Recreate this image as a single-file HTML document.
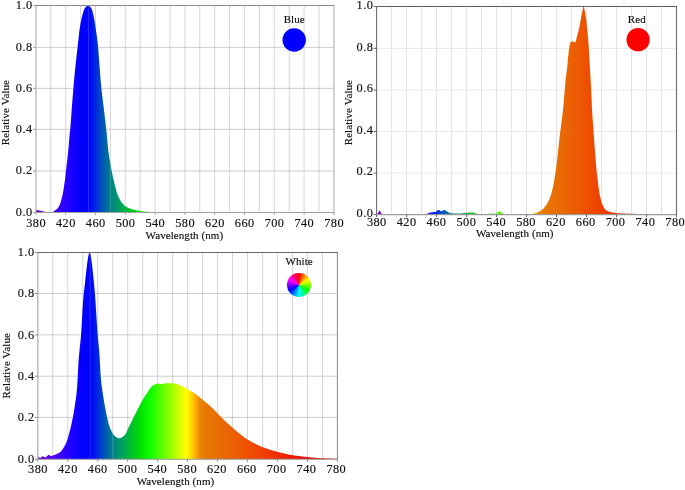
<!DOCTYPE html>
<html><head><meta charset="utf-8"><title>Spectra</title>
<style>
html,body{margin:0;padding:0;background:#fff;}
body{width:685px;height:490px;overflow:hidden;position:relative;}
svg{position:absolute;left:0;top:0;display:block;}
svg text{font-family:"Liberation Serif", serif;fill:#111;stroke:#111;stroke-width:0.16px;}
.wheel{position:absolute;left:287.1px;top:273.4px;width:23.8px;height:23.8px;border-radius:50%;
background:conic-gradient(#ff0000,#ffff00,#00ff00,#00ffff,#0000ff,#ff00ff,#ff0000);}
</style></head><body>
<svg width="685" height="490" viewBox="0 0 685 490">
<linearGradient id="g1" gradientUnits="userSpaceOnUse" x1="35.90" y1="0" x2="333.90" y2="0">
<stop offset="0.0000" stop-color="#7000d0"/>
<stop offset="0.0500" stop-color="#5000f0"/>
<stop offset="0.1000" stop-color="#2800ff"/>
<stop offset="0.1500" stop-color="#0000ff"/>
<stop offset="0.1750" stop-color="#0000ff"/>
<stop offset="0.2000" stop-color="#0028e0"/>
<stop offset="0.2250" stop-color="#0058b4"/>
<stop offset="0.2500" stop-color="#008088"/>
<stop offset="0.2750" stop-color="#009a68"/>
<stop offset="0.3000" stop-color="#00b440"/>
<stop offset="0.3250" stop-color="#00cc18"/>
<stop offset="0.3500" stop-color="#00e800"/>
<stop offset="0.3750" stop-color="#10ff00"/>
<stop offset="0.4000" stop-color="#40ff00"/>
<stop offset="0.4250" stop-color="#70ff00"/>
<stop offset="0.4500" stop-color="#a0ff00"/>
<stop offset="0.4750" stop-color="#d8ff00"/>
<stop offset="0.4950" stop-color="#ffff00"/>
<stop offset="0.5050" stop-color="#ffee00"/>
<stop offset="0.5250" stop-color="#ffb000"/>
<stop offset="0.5425" stop-color="#e88400"/>
<stop offset="0.5625" stop-color="#e67800"/>
<stop offset="0.6000" stop-color="#e86e04"/>
<stop offset="0.6500" stop-color="#eb6004"/>
<stop offset="0.7000" stop-color="#ee5002"/>
<stop offset="0.7500" stop-color="#f04000"/>
<stop offset="0.8000" stop-color="#f02c00"/>
<stop offset="0.8500" stop-color="#f01800"/>
<stop offset="0.9000" stop-color="#ee0800"/>
<stop offset="1.0000" stop-color="#e60000"/>
</linearGradient>
<path d="M50.80 5.46V212.45M65.70 5.46V212.45M80.60 5.46V212.45M95.50 5.46V212.45M110.40 5.46V212.45M125.30 5.46V212.45M140.20 5.46V212.45M155.10 5.46V212.45M170.00 5.46V212.45M184.90 5.46V212.45M199.80 5.46V212.45M214.70 5.46V212.45M229.60 5.46V212.45M244.50 5.46V212.45M259.40 5.46V212.45M274.30 5.46V212.45M289.20 5.46V212.45M304.10 5.46V212.45M319.00 5.46V212.45" stroke="#bebebe" stroke-width="0.62" fill="none"/>
<path d="M35.90 47.35H333.90M35.90 88.35H333.90M35.90 129.35H333.90M35.90 171.00H333.90" stroke="#adadad" stroke-width="0.62" fill="none"/>
<defs><path id="p1" d="M35.90 212.45L35.90 209.76L36.27 209.84L36.64 209.92L37.02 210.01L37.39 210.09L37.76 210.17L38.13 210.26L38.51 210.34L38.88 210.42L39.25 210.50L39.62 210.59L40.00 210.67L40.37 210.76L40.74 210.84L41.12 210.93L41.49 211.01L41.86 211.09L42.23 211.18L42.60 211.26L42.98 211.34L43.35 211.42L43.72 211.49L44.09 211.58L44.47 211.67L44.84 211.76L45.21 211.85L45.59 211.94L45.96 212.02L46.33 212.10L46.70 212.16L47.07 212.20L47.45 212.23L47.82 212.24L48.19 212.24L48.56 212.24L48.94 212.24L49.31 212.24L49.68 212.24L50.05 212.24L50.43 212.24L50.80 212.24L51.17 212.24L51.55 212.24L51.92 212.21L52.29 212.12L52.66 211.99L53.03 211.81L53.41 211.60L53.78 211.36L54.15 211.10L54.52 210.83L54.90 210.55L55.27 210.28L55.64 210.01L56.02 209.73L56.39 209.44L56.76 209.12L57.13 208.76L57.50 208.38L57.88 207.96L58.25 207.49L58.62 206.97L58.99 206.36L59.37 205.57L59.74 204.65L60.11 203.63L60.48 202.55L60.86 201.41L61.23 200.17L61.60 198.81L61.97 197.34L62.35 195.74L62.72 194.03L63.09 192.11L63.47 189.95L63.84 187.60L64.21 185.11L64.58 182.51L64.95 179.68L65.33 176.68L65.70 173.57L66.07 170.42L66.44 167.25L66.82 164.02L67.19 160.70L67.56 157.25L67.94 153.64L68.31 149.80L68.68 145.44L69.05 140.89L69.42 136.59L69.80 133.01L70.17 129.65L70.54 125.35L70.91 120.41L71.29 115.22L71.66 110.14L72.03 105.28L72.41 100.39L72.78 95.57L73.15 90.92L73.52 86.53L73.89 82.32L74.27 78.25L74.64 74.31L75.01 70.51L75.38 66.83L75.76 63.31L76.13 59.91L76.50 56.61L76.88 53.36L77.25 50.12L77.62 46.86L77.99 43.45L78.36 39.92L78.74 36.42L79.11 33.12L79.48 30.17L79.85 27.70L80.23 25.45L80.60 23.35L80.97 21.38L81.34 19.56L81.72 17.87L82.09 16.31L82.46 14.89L82.84 13.58L83.21 12.32L83.58 11.15L83.95 10.10L84.33 9.23L84.70 8.56L85.07 8.03L85.44 7.52L85.81 7.04L86.19 6.61L86.56 6.22L86.93 5.91L87.30 5.67L87.68 5.51L88.05 5.46L88.42 5.51L88.79 5.66L89.17 5.89L89.54 6.20L89.91 6.58L90.28 7.01L90.66 7.49L91.03 8.02L91.40 8.56L91.78 9.29L92.15 10.29L92.52 11.52L92.89 12.89L93.27 14.36L93.64 16.00L94.01 17.91L94.38 20.03L94.75 22.31L95.13 24.71L95.50 27.16L95.87 29.63L96.25 32.10L96.62 34.64L96.99 37.33L97.36 40.22L97.73 43.37L98.11 46.86L98.48 51.10L98.85 56.14L99.22 61.47L99.60 66.60L99.97 71.36L100.34 76.14L100.72 80.78L101.09 85.12L101.46 88.99L101.83 92.44L102.21 95.62L102.58 98.60L102.95 101.49L103.32 104.36L103.69 107.32L104.07 110.41L104.44 113.53L104.81 116.64L105.19 119.78L105.56 122.98L105.93 126.26L106.30 129.65L106.67 133.33L107.05 137.31L107.42 141.37L107.79 145.30L108.16 148.90L108.54 151.95L108.91 154.67L109.28 157.20L109.66 159.58L110.03 161.82L110.40 163.95L110.77 166.00L111.15 167.97L111.52 169.91L111.89 171.81L112.26 173.65L112.63 175.43L113.01 177.14L113.38 178.80L113.75 180.41L114.12 181.97L114.50 183.49L114.87 184.99L115.24 186.49L115.62 187.96L115.99 189.40L116.36 190.77L116.73 192.05L117.11 193.20L117.48 194.22L117.85 195.16L118.22 196.06L118.59 196.91L118.97 197.73L119.34 198.50L119.71 199.23L120.08 199.91L120.46 200.55L120.83 201.15L121.20 201.69L121.57 202.20L121.95 202.68L122.32 203.14L122.69 203.59L123.06 204.01L123.44 204.42L123.81 204.81L124.18 205.18L124.56 205.52L124.93 205.84L125.30 206.14L125.67 206.41L126.04 206.65L126.42 206.86L126.79 207.06L127.16 207.24L127.53 207.42L127.91 207.60L128.28 207.77L128.65 207.93L129.03 208.08L129.40 208.23L129.77 208.38L130.14 208.52L130.51 208.65L130.89 208.78L131.26 208.90L131.63 209.02L132.00 209.14L132.38 209.25L132.75 209.35L133.12 209.46L133.50 209.56L133.87 209.65L134.24 209.74L134.61 209.83L134.99 209.92L135.36 210.00L135.73 210.08L136.10 210.16L136.47 210.23L136.85 210.31L137.22 210.38L137.59 210.45L137.97 210.52L138.34 210.59L138.71 210.66L139.08 210.73L139.45 210.79L139.83 210.85L140.20 210.92L140.57 210.98L140.94 211.03L141.32 211.09L141.69 211.15L142.06 211.20L142.44 211.25L142.81 211.31L143.18 211.36L143.55 211.40L143.92 211.45L144.30 211.49L144.67 211.54L145.04 211.58L145.41 211.62L145.79 211.66L146.16 211.70L146.53 211.73L146.91 211.77L147.28 211.80L147.65 211.83L148.02 211.86L148.40 211.89L148.77 211.92L149.14 211.95L149.51 211.98L149.88 212.01L150.26 212.04L150.63 212.07L151.00 212.09L151.38 212.12L151.75 212.15L152.12 212.18L152.49 212.20L152.87 212.23L153.24 212.25L153.61 212.27L153.98 212.30L154.36 212.32L154.73 212.34L155.10 212.36L155.47 212.37L155.84 212.39L156.22 212.40L156.59 212.41L156.96 212.42L157.33 212.43L157.71 212.44L158.08 212.45L158.45 212.45L158.82 212.45L159.20 212.45L159.57 212.45L159.94 212.45L160.31 212.45L160.69 212.45L161.06 212.45L161.43 212.45L161.81 212.45L162.18 212.45L162.55 212.45L162.92 212.45L163.29 212.45L163.67 212.45L164.04 212.45L164.41 212.45L164.78 212.45L165.16 212.45L165.53 212.45L165.90 212.45L166.28 212.45L166.65 212.45L167.02 212.45L167.39 212.45L167.77 212.45L168.14 212.45L168.51 212.45L168.88 212.45L169.25 212.45L169.63 212.45L170.00 212.45L170.37 212.45L170.75 212.45L171.12 212.45L171.49 212.45L171.86 212.45L172.24 212.45L172.61 212.45L172.98 212.45L173.35 212.45L173.73 212.45L174.10 212.45L174.47 212.45L174.84 212.45L175.22 212.45L175.59 212.45L175.96 212.45L176.33 212.45L176.71 212.45L177.08 212.45L177.45 212.45L177.82 212.45L178.19 212.45L178.57 212.45L178.94 212.45L179.31 212.45L179.69 212.45L180.06 212.45L180.43 212.45L180.80 212.45L181.18 212.45L181.55 212.45L181.92 212.45L182.29 212.45L182.66 212.45L183.04 212.45L183.41 212.45L183.78 212.45L184.16 212.45L184.53 212.45L184.90 212.45L185.27 212.45L185.64 212.45L186.02 212.45L186.39 212.45L186.76 212.45L187.13 212.45L187.51 212.45L187.88 212.45L188.25 212.45L188.62 212.45L189.00 212.45L189.37 212.45L189.74 212.45L190.11 212.45L190.49 212.45L190.86 212.45L191.23 212.45L191.60 212.45L191.98 212.45L192.35 212.45L192.72 212.45L193.09 212.45L193.47 212.45L193.84 212.45L194.21 212.45L194.59 212.45L194.96 212.45L195.33 212.45L195.70 212.45L196.07 212.45L196.45 212.45L196.82 212.45L197.19 212.45L197.56 212.45L197.94 212.45L198.31 212.45L198.68 212.45L199.06 212.45L199.43 212.45L199.80 212.45L200.17 212.45L200.55 212.45L200.92 212.45L201.29 212.45L201.66 212.45L202.03 212.45L202.41 212.45L202.78 212.45L203.15 212.45L203.53 212.45L203.90 212.45L204.27 212.45L204.64 212.45L205.02 212.45L205.39 212.45L205.76 212.45L206.13 212.45L206.50 212.45L206.88 212.45L207.25 212.45L207.62 212.45L208.00 212.45L208.37 212.45L208.74 212.45L209.11 212.45L209.49 212.45L209.86 212.45L210.23 212.45L210.60 212.45L210.98 212.45L211.35 212.45L211.72 212.45L212.09 212.45L212.47 212.45L212.84 212.45L213.21 212.45L213.58 212.45L213.96 212.45L214.33 212.45L214.70 212.45L215.07 212.45L215.45 212.45L215.82 212.45L216.19 212.45L216.56 212.45L216.94 212.45L217.31 212.45L217.68 212.45L218.05 212.45L218.43 212.45L218.80 212.45L219.17 212.45L219.54 212.45L219.92 212.45L220.29 212.45L220.66 212.45L221.03 212.45L221.41 212.45L221.78 212.45L222.15 212.45L222.52 212.45L222.89 212.45L223.27 212.45L223.64 212.45L224.01 212.45L224.38 212.45L224.76 212.45L225.13 212.45L225.50 212.45L225.88 212.45L226.25 212.45L226.62 212.45L226.99 212.45L227.36 212.45L227.74 212.45L228.11 212.45L228.48 212.45L228.85 212.45L229.23 212.45L229.60 212.45L229.97 212.45L230.34 212.45L230.72 212.45L231.09 212.45L231.46 212.45L231.84 212.45L232.21 212.45L232.58 212.45L232.95 212.45L233.32 212.45L233.70 212.45L234.07 212.45L234.44 212.45L234.81 212.45L235.19 212.45L235.56 212.45L235.93 212.45L236.31 212.45L236.68 212.45L237.05 212.45L237.42 212.45L237.80 212.45L238.17 212.45L238.54 212.45L238.91 212.45L239.28 212.45L239.66 212.45L240.03 212.45L240.40 212.45L240.78 212.45L241.15 212.45L241.52 212.45L241.89 212.45L242.27 212.45L242.64 212.45L243.01 212.45L243.38 212.45L243.75 212.45L244.13 212.45L244.50 212.45L244.87 212.45L245.25 212.45L245.62 212.45L245.99 212.45L246.36 212.45L246.74 212.45L247.11 212.45L247.48 212.45L247.85 212.45L248.23 212.45L248.60 212.45L248.97 212.45L249.34 212.45L249.72 212.45L250.09 212.45L250.46 212.45L250.83 212.45L251.21 212.45L251.58 212.45L251.95 212.45L252.32 212.45L252.70 212.45L253.07 212.45L253.44 212.45L253.81 212.45L254.19 212.45L254.56 212.45L254.93 212.45L255.30 212.45L255.68 212.45L256.05 212.45L256.42 212.45L256.79 212.45L257.17 212.45L257.54 212.45L257.91 212.45L258.28 212.45L258.66 212.45L259.03 212.45L259.40 212.45L259.77 212.45L260.14 212.45L260.52 212.45L260.89 212.45L261.26 212.45L261.63 212.45L262.01 212.45L262.38 212.45L262.75 212.45L263.12 212.45L263.50 212.45L263.87 212.45L264.24 212.45L264.61 212.45L264.99 212.45L265.36 212.45L265.73 212.45L266.10 212.45L266.48 212.45L266.85 212.45L267.22 212.45L267.59 212.45L267.97 212.45L268.34 212.45L268.71 212.45L269.08 212.45L269.46 212.45L269.83 212.45L270.20 212.45L270.57 212.45L270.95 212.45L271.32 212.45L271.69 212.45L272.06 212.45L272.44 212.45L272.81 212.45L273.18 212.45L273.56 212.45L273.93 212.45L274.30 212.45L274.67 212.45L275.05 212.45L275.42 212.45L275.79 212.45L276.16 212.45L276.53 212.45L276.91 212.45L277.28 212.45L277.65 212.45L278.02 212.45L278.40 212.45L278.77 212.45L279.14 212.45L279.51 212.45L279.89 212.45L280.26 212.45L280.63 212.45L281.00 212.45L281.38 212.45L281.75 212.45L282.12 212.45L282.50 212.45L282.87 212.45L283.24 212.45L283.61 212.45L283.99 212.45L284.36 212.45L284.73 212.45L285.10 212.45L285.48 212.45L285.85 212.45L286.22 212.45L286.59 212.45L286.96 212.45L287.34 212.45L287.71 212.45L288.08 212.45L288.45 212.45L288.83 212.45L289.20 212.45L289.57 212.45L289.94 212.45L290.32 212.45L290.69 212.45L291.06 212.45L291.44 212.45L291.81 212.45L292.18 212.45L292.55 212.45L292.93 212.45L293.30 212.45L293.67 212.45L294.04 212.45L294.41 212.45L294.79 212.45L295.16 212.45L295.53 212.45L295.90 212.45L296.28 212.45L296.65 212.45L297.02 212.45L297.39 212.45L297.77 212.45L298.14 212.45L298.51 212.45L298.88 212.45L299.26 212.45L299.63 212.45L300.00 212.45L300.37 212.45L300.75 212.45L301.12 212.45L301.49 212.45L301.86 212.45L302.24 212.45L302.61 212.45L302.98 212.45L303.35 212.45L303.73 212.45L304.10 212.45L304.47 212.45L304.84 212.45L305.22 212.45L305.59 212.45L305.96 212.45L306.33 212.45L306.71 212.45L307.08 212.45L307.45 212.45L307.82 212.45L308.20 212.45L308.57 212.45L308.94 212.45L309.31 212.45L309.69 212.45L310.06 212.45L310.43 212.45L310.80 212.45L311.18 212.45L311.55 212.45L311.92 212.45L312.29 212.45L312.67 212.45L313.04 212.45L313.41 212.45L313.78 212.45L314.16 212.45L314.53 212.45L314.90 212.45L315.27 212.45L315.65 212.45L316.02 212.45L316.39 212.45L316.76 212.45L317.14 212.45L317.51 212.45L317.88 212.45L318.25 212.45L318.63 212.45L319.00 212.45L319.37 212.45L319.75 212.45L320.12 212.45L320.49 212.45L320.86 212.45L321.23 212.45L321.61 212.45L321.98 212.45L322.35 212.45L322.72 212.45L323.10 212.45L323.47 212.45L323.84 212.45L324.21 212.45L324.59 212.45L324.96 212.45L325.33 212.45L325.70 212.45L326.08 212.45L326.45 212.45L326.82 212.45L327.19 212.45L327.57 212.45L327.94 212.45L328.31 212.45L328.69 212.45L329.06 212.45L329.43 212.45L329.80 212.45L330.18 212.45L330.55 212.45L330.92 212.45L331.29 212.45L331.66 212.45L332.04 212.45L332.41 212.45L332.78 212.45L333.15 212.45L333.53 212.45L333.90 212.45L333.90 212.45Z"/></defs>
<clipPath id="c1"><use href="#p1"/></clipPath>
<use href="#p1" fill="url(#g1)"/>
<path d="M88.42 5.46V212.45" stroke="#ffffff" stroke-opacity="0.22" stroke-width="0.8" clip-path="url(#c1)"/>
<path d="M110.40 5.46V212.45" stroke="#ffffff" stroke-opacity="0.22" stroke-width="0.8" clip-path="url(#c1)"/>
<path d="M35.90 5.46V212.45" stroke="#b4b4b4" stroke-width="1.3" fill="none"/>
<path d="M333.90 5.46V212.45" stroke="#b0b0b0" stroke-width="1.1" fill="none"/>
<path d="M35.40 212.45H334.40" stroke="#a0a0a0" stroke-width="1.1" fill="none"/>
<path d="M35.40 5.46H334.40" stroke="#8a8a8a" stroke-width="1.1" fill="none"/>
<path d="M35.90 212.45v2.5M65.70 212.45v2.5M95.50 212.45v2.5M125.30 212.45v2.5M155.10 212.45v2.5M184.90 212.45v2.5M214.70 212.45v2.5M244.50 212.45v2.5M274.30 212.45v2.5M304.10 212.45v2.5M333.90 212.45v2.5M35.90 5.46h-3M35.90 47.35h-3M35.90 88.35h-3M35.90 129.35h-3M35.90 171.00h-3M35.90 212.45h-3" stroke="#a0a0a0" stroke-width="1" fill="none"/>
<text x="36.12" y="226.95" text-anchor="middle" font-size="12.3" letter-spacing="0.45">380</text>
<text x="65.92" y="226.95" text-anchor="middle" font-size="12.3" letter-spacing="0.45">420</text>
<text x="95.72" y="226.95" text-anchor="middle" font-size="12.3" letter-spacing="0.45">460</text>
<text x="125.53" y="226.95" text-anchor="middle" font-size="12.3" letter-spacing="0.45">500</text>
<text x="155.32" y="226.95" text-anchor="middle" font-size="12.3" letter-spacing="0.45">540</text>
<text x="185.12" y="226.95" text-anchor="middle" font-size="12.3" letter-spacing="0.45">580</text>
<text x="214.93" y="226.95" text-anchor="middle" font-size="12.3" letter-spacing="0.45">620</text>
<text x="244.72" y="226.95" text-anchor="middle" font-size="12.3" letter-spacing="0.45">660</text>
<text x="274.53" y="226.95" text-anchor="middle" font-size="12.3" letter-spacing="0.45">700</text>
<text x="304.32" y="226.95" text-anchor="middle" font-size="12.3" letter-spacing="0.45">740</text>
<text x="334.12" y="226.95" text-anchor="middle" font-size="12.3" letter-spacing="0.45">780</text>
<text x="32.60" y="8.86" text-anchor="end" font-size="12.3" letter-spacing="0.45">1.0</text>
<text x="32.60" y="50.75" text-anchor="end" font-size="12.3" letter-spacing="0.45">0.8</text>
<text x="32.60" y="91.75" text-anchor="end" font-size="12.3" letter-spacing="0.45">0.6</text>
<text x="32.60" y="132.75" text-anchor="end" font-size="12.3" letter-spacing="0.45">0.4</text>
<text x="32.60" y="174.40" text-anchor="end" font-size="12.3" letter-spacing="0.45">0.2</text>
<text x="32.60" y="215.85" text-anchor="end" font-size="12.3" letter-spacing="0.45">0.0</text>
<text x="184.40" y="238.70" text-anchor="middle" font-size="11" letter-spacing="0.08">Wavelength (nm)</text>
<text transform="translate(9.00 112.60) rotate(-90)" text-anchor="middle" font-size="11" letter-spacing="0.08">Relative Value</text>
<text x="294.20" y="22.80" text-anchor="middle" font-size="11" letter-spacing="0.08">Blue</text>
<circle cx="294.20" cy="40.00" r="11.70" fill="#0000ff"/>
<linearGradient id="g2" gradientUnits="userSpaceOnUse" x1="376.60" y1="0" x2="676.50" y2="0">
<stop offset="0.0000" stop-color="#7000d0"/>
<stop offset="0.0500" stop-color="#5000f0"/>
<stop offset="0.1000" stop-color="#2800ff"/>
<stop offset="0.1500" stop-color="#0000ff"/>
<stop offset="0.1750" stop-color="#0000ff"/>
<stop offset="0.2000" stop-color="#0028e0"/>
<stop offset="0.2250" stop-color="#0058b4"/>
<stop offset="0.2500" stop-color="#008088"/>
<stop offset="0.2750" stop-color="#009a68"/>
<stop offset="0.3000" stop-color="#00b440"/>
<stop offset="0.3250" stop-color="#00cc18"/>
<stop offset="0.3500" stop-color="#00e800"/>
<stop offset="0.3750" stop-color="#10ff00"/>
<stop offset="0.4000" stop-color="#40ff00"/>
<stop offset="0.4250" stop-color="#70ff00"/>
<stop offset="0.4500" stop-color="#a0ff00"/>
<stop offset="0.4750" stop-color="#d8ff00"/>
<stop offset="0.4950" stop-color="#ffff00"/>
<stop offset="0.5050" stop-color="#ffee00"/>
<stop offset="0.5250" stop-color="#ffb000"/>
<stop offset="0.5425" stop-color="#e88400"/>
<stop offset="0.5625" stop-color="#e67800"/>
<stop offset="0.6000" stop-color="#e86e04"/>
<stop offset="0.6500" stop-color="#eb6004"/>
<stop offset="0.7000" stop-color="#ee5002"/>
<stop offset="0.7500" stop-color="#f04000"/>
<stop offset="0.8000" stop-color="#f02c00"/>
<stop offset="0.8500" stop-color="#f01800"/>
<stop offset="0.9000" stop-color="#ee0800"/>
<stop offset="1.0000" stop-color="#e60000"/>
</linearGradient>
<path d="M391.60 6.55V214.60M406.59 6.55V214.60M421.59 6.55V214.60M436.58 6.55V214.60M451.58 6.55V214.60M466.57 6.55V214.60M481.56 6.55V214.60M496.56 6.55V214.60M511.56 6.55V214.60M526.55 6.55V214.60M541.55 6.55V214.60M556.54 6.55V214.60M571.54 6.55V214.60M586.53 6.55V214.60M601.53 6.55V214.60M616.52 6.55V214.60M631.51 6.55V214.60M646.51 6.55V214.60M661.50 6.55V214.60" stroke="#d2d2d2" stroke-width="0.62" fill="none"/>
<path d="M376.60 48.35H676.50M376.60 90.00H676.50M376.60 131.50H676.50M376.60 173.10H676.50" stroke="#e9e6e3" stroke-width="0.9" fill="none"/>
<defs><path id="p2" d="M376.60 214.60L376.60 214.60L376.97 214.30L377.35 213.93L377.72 213.51L378.10 213.04L378.47 212.36L378.85 211.50L379.22 210.75L379.60 210.44L379.97 210.75L380.35 211.50L380.72 212.36L381.10 213.04L381.47 213.56L381.85 214.06L382.22 214.45L382.60 214.60L382.97 214.60L383.35 214.60L383.72 214.60L384.10 214.60L384.47 214.60L384.85 214.60L385.22 214.60L385.60 214.60L385.97 214.60L386.35 214.60L386.72 214.60L387.10 214.60L387.47 214.60L387.85 214.60L388.22 214.60L388.60 214.60L388.97 214.60L389.35 214.60L389.72 214.60L390.10 214.60L390.47 214.60L390.85 214.60L391.22 214.60L391.60 214.60L391.97 214.60L392.34 214.60L392.72 214.60L393.09 214.60L393.47 214.60L393.84 214.60L394.22 214.60L394.59 214.60L394.97 214.60L395.34 214.60L395.72 214.60L396.09 214.60L396.47 214.60L396.84 214.60L397.22 214.60L397.59 214.60L397.97 214.60L398.34 214.60L398.72 214.60L399.09 214.60L399.47 214.60L399.84 214.60L400.22 214.60L400.59 214.60L400.97 214.60L401.34 214.60L401.72 214.60L402.09 214.60L402.47 214.60L402.84 214.60L403.22 214.60L403.59 214.60L403.97 214.60L404.34 214.60L404.72 214.60L405.09 214.60L405.47 214.60L405.84 214.60L406.22 214.60L406.59 214.60L406.96 214.60L407.34 214.60L407.71 214.60L408.09 214.60L408.46 214.60L408.84 214.60L409.21 214.60L409.59 214.60L409.96 214.60L410.34 214.60L410.71 214.60L411.09 214.60L411.46 214.60L411.84 214.60L412.21 214.60L412.59 214.60L412.96 214.60L413.34 214.60L413.71 214.60L414.09 214.60L414.46 214.60L414.84 214.60L415.21 214.60L415.59 214.60L415.96 214.60L416.34 214.60L416.71 214.60L417.09 214.60L417.46 214.60L417.84 214.60L418.21 214.60L418.59 214.60L418.96 214.60L419.34 214.60L419.71 214.60L420.09 214.60L420.46 214.60L420.84 214.60L421.21 214.60L421.59 214.60L421.96 214.60L422.33 214.60L422.71 214.60L423.08 214.60L423.46 214.60L423.83 214.60L424.21 214.60L424.58 214.60L424.96 214.57L425.33 214.48L425.71 214.35L426.08 214.20L426.46 214.03L426.83 213.86L427.21 213.70L427.58 213.56L427.96 213.44L428.33 213.31L428.71 213.18L429.08 213.05L429.46 212.93L429.83 212.80L430.21 212.69L430.58 212.58L430.96 212.48L431.33 212.39L431.71 212.32L432.08 212.26L432.46 212.22L432.83 212.19L433.21 212.16L433.58 212.14L433.96 212.11L434.33 212.08L434.71 212.05L435.08 212.00L435.46 211.89L435.83 211.68L436.21 211.40L436.58 211.09L436.95 210.77L437.33 210.46L437.70 210.20L438.08 210.01L438.45 209.92L438.83 209.96L439.20 210.09L439.58 210.30L439.95 210.54L440.33 210.79L440.70 211.01L441.08 211.16L441.45 211.22L441.83 211.16L442.20 211.01L442.58 210.79L442.95 210.54L443.33 210.30L443.70 210.09L444.08 209.96L444.45 209.92L444.83 209.99L445.20 210.15L445.58 210.38L445.95 210.65L446.33 210.95L446.70 211.25L447.08 211.54L447.45 211.80L447.83 212.00L448.20 212.17L448.58 212.34L448.95 212.51L449.33 212.67L449.70 212.82L450.08 212.96L450.45 213.09L450.83 213.18L451.20 213.26L451.58 213.30L451.95 213.33L452.32 213.35L452.70 213.37L453.07 213.39L453.45 213.41L453.82 213.43L454.20 213.45L454.57 213.47L454.95 213.48L455.32 213.49L455.70 213.51L456.07 213.52L456.45 213.53L456.82 213.54L457.20 213.54L457.57 213.55L457.95 213.55L458.32 213.56L458.70 213.56L459.07 213.56L459.45 213.56L459.82 213.54L460.20 213.52L460.57 213.49L460.95 213.46L461.32 213.42L461.70 213.38L462.07 213.33L462.45 213.28L462.82 213.23L463.20 213.17L463.57 213.12L463.95 213.07L464.32 213.01L464.70 212.97L465.07 212.92L465.45 212.88L465.82 212.84L466.20 212.81L466.57 212.78L466.94 212.76L467.32 212.73L467.69 212.71L468.07 212.69L468.44 212.67L468.82 212.64L469.19 212.62L469.57 212.60L469.94 212.59L470.32 212.57L470.69 212.56L471.07 212.54L471.44 212.53L471.82 212.53L472.19 212.52L472.57 212.52L472.94 212.54L473.32 212.60L473.69 212.69L474.07 212.80L474.44 212.93L474.82 213.08L475.19 213.23L475.57 213.37L475.94 213.51L476.32 213.64L476.69 213.74L477.07 213.82L477.44 213.88L477.82 213.94L478.19 214.01L478.57 214.06L478.94 214.12L479.32 214.17L479.69 214.22L480.07 214.26L480.44 214.29L480.82 214.32L481.19 214.33L481.56 214.34L481.94 214.34L482.31 214.33L482.69 214.32L483.06 214.31L483.44 214.29L483.81 214.28L484.19 214.25L484.56 214.23L484.94 214.21L485.31 214.18L485.69 214.16L486.06 214.13L486.44 214.11L486.81 214.08L487.19 214.05L487.56 214.01L487.94 213.96L488.31 213.91L488.69 213.86L489.06 213.81L489.44 213.75L489.81 213.70L490.19 213.66L490.56 213.62L490.94 213.59L491.31 213.57L491.69 213.56L492.06 213.57L492.44 213.59L492.81 213.63L493.19 213.67L493.56 213.71L493.94 213.75L494.31 213.79L494.69 213.81L495.06 213.82L495.44 213.77L495.81 213.62L496.19 213.41L496.56 213.14L496.93 212.84L497.31 212.52L497.68 212.22L498.06 211.94L498.43 211.71L498.81 211.55L499.18 211.48L499.56 211.51L499.93 211.61L500.31 211.79L500.68 212.01L501.06 212.26L501.43 212.53L501.81 212.81L502.18 213.07L502.56 213.30L502.93 213.54L503.31 213.83L503.68 214.11L504.06 214.36L504.43 214.53L504.81 214.60L505.18 214.60L505.56 214.60L505.93 214.60L506.31 214.60L506.68 214.60L507.06 214.60L507.43 214.60L507.81 214.60L508.18 214.60L508.56 214.60L508.93 214.60L509.31 214.60L509.68 214.60L510.06 214.60L510.43 214.60L510.81 214.60L511.18 214.60L511.56 214.60L511.93 214.60L512.30 214.60L512.68 214.60L513.05 214.60L513.43 214.60L513.80 214.60L514.18 214.60L514.55 214.60L514.93 214.60L515.30 214.60L515.68 214.60L516.05 214.60L516.43 214.60L516.80 214.60L517.18 214.60L517.55 214.60L517.93 214.60L518.30 214.60L518.68 214.60L519.05 214.60L519.43 214.60L519.80 214.60L520.18 214.60L520.55 214.60L520.93 214.60L521.30 214.60L521.68 214.60L522.05 214.60L522.43 214.60L522.80 214.60L523.18 214.60L523.55 214.59L523.93 214.59L524.30 214.58L524.68 214.57L525.05 214.55L525.43 214.54L525.80 214.52L526.18 214.50L526.55 214.48L526.92 214.45L527.30 214.43L527.67 214.40L528.05 214.37L528.42 214.35L528.80 214.32L529.17 214.28L529.55 214.25L529.92 214.22L530.30 214.18L530.67 214.14L531.05 214.10L531.42 214.04L531.80 213.98L532.17 213.90L532.55 213.83L532.92 213.74L533.30 213.66L533.67 213.56L534.05 213.47L534.42 213.37L534.80 213.27L535.17 213.16L535.55 213.05L535.92 212.93L536.30 212.81L536.67 212.68L537.05 212.54L537.42 212.39L537.80 212.24L538.17 212.08L538.55 211.91L538.92 211.73L539.30 211.55L539.67 211.35L540.05 211.15L540.42 210.94L540.80 210.72L541.17 210.49L541.55 210.24L541.92 209.97L542.29 209.66L542.67 209.33L543.04 208.98L543.42 208.60L543.79 208.20L544.17 207.77L544.54 207.32L544.92 206.85L545.29 206.35L545.67 205.84L546.04 205.31L546.42 204.76L546.79 204.20L547.17 203.60L547.54 202.96L547.92 202.28L548.29 201.54L548.67 200.76L549.04 199.93L549.42 199.04L549.79 198.11L550.17 197.11L550.54 196.07L550.92 194.96L551.29 193.79L551.67 192.52L552.04 191.08L552.42 189.50L552.79 187.79L553.17 185.96L553.54 184.01L553.92 181.96L554.29 179.82L554.67 177.61L555.04 175.33L555.42 172.99L555.79 170.50L556.17 167.76L556.54 164.81L556.91 161.69L557.29 158.43L557.66 155.06L558.04 151.62L558.41 148.14L558.79 144.66L559.16 141.20L559.54 137.82L559.91 134.53L560.29 131.38L560.66 128.39L561.04 125.53L561.41 122.73L561.79 119.91L562.16 117.01L562.54 113.94L562.91 110.64L563.29 106.96L563.66 102.77L564.04 98.26L564.41 93.61L564.79 89.00L565.16 84.61L565.54 80.64L565.91 77.28L566.29 74.51L566.66 71.82L567.04 68.65L567.41 64.92L567.79 60.95L568.16 57.11L568.54 53.19L568.91 49.62L569.29 47.29L569.66 45.38L570.04 43.86L570.41 42.87L570.79 42.33L571.16 41.87L571.54 41.53L571.91 41.33L572.28 41.30L572.66 41.38L573.03 41.53L573.41 41.71L573.78 41.91L574.16 42.10L574.53 42.25L574.91 42.33L575.28 42.20L575.66 41.44L576.03 40.20L576.41 38.69L576.78 37.11L577.16 35.68L577.53 34.38L577.91 33.04L578.28 31.65L578.66 30.18L579.03 28.60L579.41 26.85L579.78 24.94L580.16 22.93L580.53 20.92L580.91 18.79L581.28 16.62L581.66 14.61L582.03 12.71L582.41 10.66L582.78 8.74L583.16 7.28L583.53 6.57L583.91 6.94L584.28 8.31L584.66 10.31L585.03 12.55L585.41 14.65L585.78 16.72L586.16 19.08L586.53 21.98L586.90 26.11L587.28 30.04L587.65 33.42L588.03 37.36L588.40 42.01L588.78 47.40L589.15 54.22L589.53 61.07L589.90 67.43L590.28 73.85L590.65 80.19L591.03 86.88L591.40 94.66L591.78 103.60L592.15 111.30L592.53 117.53L592.90 123.09L593.28 128.30L593.65 133.44L594.03 138.58L594.40 143.67L594.78 148.67L595.15 153.53L595.53 158.22L595.90 162.69L596.28 166.90L596.65 170.81L597.03 174.39L597.40 177.83L597.78 181.12L598.15 184.23L598.53 187.14L598.90 189.78L599.28 192.14L599.65 194.18L600.03 196.03L600.40 197.76L600.78 199.36L601.15 200.82L601.52 202.12L601.90 203.25L602.27 204.20L602.65 205.03L603.02 205.83L603.40 206.58L603.77 207.28L604.15 207.94L604.52 208.53L604.90 209.07L605.27 209.53L605.65 209.93L606.02 210.24L606.40 210.48L606.77 210.68L607.15 210.87L607.52 211.04L607.90 211.20L608.27 211.35L608.65 211.49L609.02 211.62L609.40 211.74L609.77 211.85L610.15 211.96L610.52 212.05L610.90 212.14L611.27 212.23L611.65 212.31L612.02 212.38L612.40 212.45L612.77 212.52L613.15 212.59L613.52 212.65L613.90 212.71L614.27 212.77L614.65 212.83L615.02 212.89L615.40 212.94L615.77 212.99L616.15 213.04L616.52 213.08L616.89 213.13L617.27 213.17L617.64 213.21L618.02 213.24L618.39 213.27L618.77 213.30L619.14 213.33L619.52 213.35L619.89 213.37L620.27 213.39L620.64 213.41L621.02 213.43L621.39 213.45L621.77 213.46L622.14 213.48L622.52 213.50L622.89 213.51L623.27 213.52L623.64 213.54L624.02 213.55L624.39 213.56L624.77 213.58L625.14 213.59L625.52 213.60L625.89 213.61L626.27 213.62L626.64 213.63L627.02 213.64L627.39 213.65L627.77 213.66L628.14 213.67L628.52 213.68L628.89 213.69L629.27 213.70L629.64 213.71L630.02 213.72L630.39 213.73L630.77 213.75L631.14 213.76L631.51 213.77L631.89 213.78L632.26 213.79L632.64 213.80L633.01 213.81L633.39 213.82L633.76 213.84L634.14 213.85L634.51 213.86L634.89 213.87L635.26 213.88L635.64 213.89L636.01 213.90L636.39 213.91L636.76 213.92L637.14 213.93L637.51 213.94L637.89 213.95L638.26 213.96L638.64 213.97L639.01 213.98L639.39 213.99L639.76 214.00L640.14 214.01L640.51 214.02L640.89 214.03L641.26 214.04L641.64 214.05L642.01 214.06L642.39 214.07L642.76 214.08L643.14 214.09L643.51 214.10L643.89 214.11L644.26 214.12L644.64 214.13L645.01 214.14L645.39 214.15L645.76 214.16L646.14 214.17L646.51 214.18L646.88 214.19L647.26 214.21L647.63 214.22L648.01 214.23L648.38 214.24L648.76 214.25L649.13 214.27L649.51 214.28L649.88 214.29L650.26 214.31L650.63 214.32L651.01 214.33L651.38 214.35L651.76 214.36L652.13 214.38L652.51 214.39L652.88 214.40L653.26 214.42L653.63 214.43L654.01 214.44L654.38 214.46L654.76 214.47L655.13 214.48L655.51 214.49L655.88 214.50L656.26 214.52L656.63 214.53L657.01 214.54L657.38 214.55L657.76 214.55L658.13 214.56L658.51 214.57L658.88 214.58L659.26 214.58L659.63 214.59L660.01 214.59L660.38 214.60L660.76 214.60L661.13 214.60L661.50 214.60L661.88 214.60L662.25 214.60L662.63 214.60L663.00 214.60L663.38 214.60L663.75 214.60L664.13 214.60L664.50 214.60L664.88 214.60L665.25 214.60L665.63 214.60L666.00 214.60L666.38 214.60L666.75 214.60L667.13 214.60L667.50 214.60L667.88 214.60L668.25 214.60L668.63 214.60L669.00 214.60L669.38 214.60L669.75 214.60L670.13 214.60L670.50 214.60L670.88 214.60L671.25 214.60L671.63 214.60L672.00 214.60L672.38 214.60L672.75 214.60L673.13 214.60L673.50 214.60L673.88 214.60L674.25 214.60L674.63 214.60L675.00 214.60L675.38 214.60L675.75 214.60L676.13 214.60L676.50 214.60L676.50 214.60Z"/></defs>
<clipPath id="c2"><use href="#p2"/></clipPath>
<use href="#p2" fill="url(#g2)"/>
<path d="M376.60 6.55V214.60" stroke="#6a6a6a" stroke-width="1.1" fill="none"/>
<path d="M676.50 6.55V214.60" stroke="#6a6a6a" stroke-width="1.1" fill="none"/>
<path d="M376.10 214.60H677.00" stroke="#9a9a9a" stroke-width="1.1" fill="none"/>
<path d="M376.10 6.55H677.00" stroke="#5e5e5e" stroke-width="1.1" fill="none"/>
<path d="M376.60 214.60v2.5M406.59 214.60v2.5M436.58 214.60v2.5M466.57 214.60v2.5M496.56 214.60v2.5M526.55 214.60v2.5M556.54 214.60v2.5M586.53 214.60v2.5M616.52 214.60v2.5M646.51 214.60v2.5M676.50 214.60v2.5M376.60 6.55h-3M376.60 48.35h-3M376.60 90.00h-3M376.60 131.50h-3M376.60 173.10h-3M376.60 214.60h-3" stroke="#666666" stroke-width="1" fill="none"/>
<text x="376.83" y="225.90" text-anchor="middle" font-size="12.3" letter-spacing="0.45">380</text>
<text x="406.67" y="225.90" text-anchor="middle" font-size="12.3" letter-spacing="0.45">420</text>
<text x="436.51" y="225.90" text-anchor="middle" font-size="12.3" letter-spacing="0.45">460</text>
<text x="466.35" y="225.90" text-anchor="middle" font-size="12.3" letter-spacing="0.45">500</text>
<text x="496.19" y="225.90" text-anchor="middle" font-size="12.3" letter-spacing="0.45">540</text>
<text x="526.03" y="225.90" text-anchor="middle" font-size="12.3" letter-spacing="0.45">580</text>
<text x="555.87" y="225.90" text-anchor="middle" font-size="12.3" letter-spacing="0.45">620</text>
<text x="585.71" y="225.90" text-anchor="middle" font-size="12.3" letter-spacing="0.45">660</text>
<text x="615.55" y="225.90" text-anchor="middle" font-size="12.3" letter-spacing="0.45">700</text>
<text x="645.39" y="225.90" text-anchor="middle" font-size="12.3" letter-spacing="0.45">740</text>
<text x="675.23" y="225.90" text-anchor="middle" font-size="12.3" letter-spacing="0.45">780</text>
<text x="373.30" y="8.75" text-anchor="end" font-size="12.3" letter-spacing="0.45">1.0</text>
<text x="373.30" y="50.55" text-anchor="end" font-size="12.3" letter-spacing="0.45">0.8</text>
<text x="373.30" y="92.20" text-anchor="end" font-size="12.3" letter-spacing="0.45">0.6</text>
<text x="373.30" y="133.70" text-anchor="end" font-size="12.3" letter-spacing="0.45">0.4</text>
<text x="373.30" y="175.30" text-anchor="end" font-size="12.3" letter-spacing="0.45">0.2</text>
<text x="373.30" y="216.80" text-anchor="end" font-size="12.3" letter-spacing="0.45">0.0</text>
<text x="514.80" y="237.40" text-anchor="middle" font-size="11" letter-spacing="0.08">Wavelength (nm)</text>
<text transform="translate(352.00 112.60) rotate(-90)" text-anchor="middle" font-size="11" letter-spacing="0.08">Relative Value</text>
<text x="636.80" y="22.90" text-anchor="middle" font-size="11" letter-spacing="0.08">Red</text>
<circle cx="638.10" cy="39.70" r="11.60" fill="#ff0000"/>
<linearGradient id="g3" gradientUnits="userSpaceOnUse" x1="37.80" y1="0" x2="337.40" y2="0">
<stop offset="0.0000" stop-color="#7000d0"/>
<stop offset="0.0500" stop-color="#5000f0"/>
<stop offset="0.1000" stop-color="#2800ff"/>
<stop offset="0.1500" stop-color="#0000ff"/>
<stop offset="0.1750" stop-color="#0000ff"/>
<stop offset="0.2000" stop-color="#0028e0"/>
<stop offset="0.2250" stop-color="#0058b4"/>
<stop offset="0.2500" stop-color="#008088"/>
<stop offset="0.2750" stop-color="#009a68"/>
<stop offset="0.3000" stop-color="#00b440"/>
<stop offset="0.3250" stop-color="#00cc18"/>
<stop offset="0.3500" stop-color="#00e800"/>
<stop offset="0.3750" stop-color="#10ff00"/>
<stop offset="0.4000" stop-color="#40ff00"/>
<stop offset="0.4250" stop-color="#70ff00"/>
<stop offset="0.4500" stop-color="#a0ff00"/>
<stop offset="0.4750" stop-color="#d8ff00"/>
<stop offset="0.4950" stop-color="#ffff00"/>
<stop offset="0.5050" stop-color="#ffee00"/>
<stop offset="0.5250" stop-color="#ffb000"/>
<stop offset="0.5425" stop-color="#e88400"/>
<stop offset="0.5625" stop-color="#e67800"/>
<stop offset="0.6000" stop-color="#e86e04"/>
<stop offset="0.6500" stop-color="#eb6004"/>
<stop offset="0.7000" stop-color="#ee5002"/>
<stop offset="0.7500" stop-color="#f04000"/>
<stop offset="0.8000" stop-color="#f02c00"/>
<stop offset="0.8500" stop-color="#f01800"/>
<stop offset="0.9000" stop-color="#ee0800"/>
<stop offset="1.0000" stop-color="#e60000"/>
</linearGradient>
<path d="M52.78 252.45V459.30M67.76 252.45V459.30M82.74 252.45V459.30M97.72 252.45V459.30M112.70 252.45V459.30M127.68 252.45V459.30M142.66 252.45V459.30M157.64 252.45V459.30M172.62 252.45V459.30M187.60 252.45V459.30M202.58 252.45V459.30M217.56 252.45V459.30M232.54 252.45V459.30M247.52 252.45V459.30M262.50 252.45V459.30M277.48 252.45V459.30M292.46 252.45V459.30M307.44 252.45V459.30M322.42 252.45V459.30" stroke="#bababa" stroke-width="0.62" fill="none"/>
<path d="M37.80 293.50H337.40M37.80 334.90H337.40M37.80 376.20H337.40M37.80 417.40H337.40" stroke="#b0b0b0" stroke-width="0.62" fill="none"/>
<defs><path id="p3" d="M37.80 459.30L37.80 456.82L38.17 456.95L38.55 457.08L38.92 457.23L39.30 457.43L39.67 457.65L40.05 457.82L40.42 457.83L40.80 457.62L41.17 457.31L41.54 457.02L41.92 456.77L42.29 456.52L42.67 456.34L43.04 456.31L43.42 456.45L43.79 456.64L44.17 456.82L44.54 456.97L44.92 457.12L45.29 457.22L45.66 457.19L46.04 456.98L46.41 456.65L46.79 456.30L47.16 455.99L47.54 455.69L47.91 455.37L48.29 455.10L48.66 454.96L49.03 455.01L49.41 455.18L49.78 455.40L50.16 455.58L50.53 455.72L50.91 455.87L51.28 455.97L51.66 455.98L52.03 455.88L52.41 455.72L52.78 455.54L53.15 455.37L53.53 455.23L53.90 455.10L54.28 454.97L54.65 454.83L55.03 454.70L55.40 454.56L55.78 454.42L56.15 454.26L56.52 454.09L56.90 453.92L57.27 453.75L57.65 453.57L58.02 453.39L58.40 453.20L58.77 452.99L59.15 452.77L59.52 452.54L59.90 452.28L60.27 452.01L60.64 451.71L61.02 451.37L61.39 450.95L61.77 450.48L62.14 449.95L62.52 449.39L62.89 448.80L63.27 448.20L63.64 447.60L64.01 446.99L64.39 446.36L64.76 445.70L65.14 445.01L65.51 444.28L65.89 443.50L66.26 442.66L66.64 441.76L67.01 440.75L67.39 439.63L67.76 438.43L68.13 437.16L68.51 435.83L68.88 434.47L69.26 433.10L69.63 431.70L70.01 430.22L70.38 428.69L70.76 427.10L71.13 425.46L71.50 423.80L71.88 422.10L72.25 420.33L72.63 418.48L73.00 416.51L73.38 414.45L73.75 412.30L74.13 410.05L74.50 407.71L74.88 405.28L75.25 402.79L75.62 400.35L76.00 397.79L76.37 394.92L76.75 391.54L77.12 387.13L77.50 380.72L77.87 373.28L78.25 365.99L78.62 360.01L79.00 355.49L79.37 351.62L79.74 348.11L80.12 344.69L80.49 341.09L80.87 337.01L81.24 332.13L81.62 326.18L81.99 319.60L82.37 312.86L82.74 306.43L83.11 300.78L83.49 296.31L83.86 292.67L84.24 289.43L84.61 286.31L84.99 283.00L85.36 279.52L85.74 276.04L86.11 272.68L86.48 269.37L86.86 266.17L87.23 263.21L87.61 260.46L87.98 258.04L88.36 256.03L88.73 254.37L89.11 253.29L89.48 252.54L89.86 252.63L90.23 253.47L90.60 254.86L90.98 257.27L91.35 259.63L91.73 262.09L92.10 265.13L92.48 268.82L92.85 272.62L93.23 276.08L93.60 279.42L93.97 282.93L94.35 286.83L94.72 291.08L95.10 295.76L95.47 301.02L95.85 306.74L96.22 312.72L96.60 318.75L96.97 324.63L97.35 330.18L97.72 335.19L98.09 339.47L98.47 343.24L98.84 346.94L99.22 351.02L99.59 355.95L99.97 362.95L100.34 370.63L100.72 376.56L101.09 380.52L101.46 383.94L101.84 386.94L102.21 389.61L102.59 392.07L102.96 394.42L103.34 396.77L103.71 399.15L104.09 401.47L104.46 403.72L104.84 405.90L105.21 408.01L105.58 410.03L105.96 411.98L106.33 413.84L106.71 415.61L107.08 417.29L107.46 418.88L107.83 420.44L108.21 421.95L108.58 423.39L108.95 424.75L109.33 426.00L109.70 427.12L110.08 428.10L110.45 428.96L110.83 429.78L111.20 430.58L111.58 431.34L111.95 432.07L112.33 432.75L112.70 433.39L113.07 433.98L113.45 434.52L113.82 435.01L114.20 435.45L114.57 435.82L114.95 436.13L115.32 436.41L115.70 436.69L116.07 436.95L116.44 437.20L116.82 437.43L117.19 437.64L117.57 437.82L117.94 437.97L118.32 438.09L118.69 438.17L119.07 438.20L119.44 438.19L119.82 438.14L120.19 438.06L120.56 437.94L120.94 437.80L121.31 437.63L121.69 437.43L122.06 437.20L122.44 436.96L122.81 436.70L123.19 436.42L123.56 436.12L123.93 435.81L124.31 435.49L124.68 435.16L125.06 434.79L125.43 434.29L125.81 433.67L126.18 432.97L126.56 432.19L126.93 431.35L127.31 430.48L127.68 429.59L128.05 428.70L128.43 427.82L128.80 426.99L129.18 426.20L129.55 425.46L129.93 424.71L130.30 423.96L130.68 423.22L131.05 422.47L131.42 421.73L131.80 420.98L132.17 420.24L132.55 419.50L132.92 418.75L133.30 418.01L133.67 417.27L134.05 416.52L134.42 415.78L134.80 415.03L135.17 414.29L135.54 413.53L135.92 412.77L136.29 412.00L136.67 411.23L137.04 410.47L137.42 409.70L137.79 408.94L138.17 408.18L138.54 407.43L138.91 406.69L139.29 405.96L139.66 405.25L140.04 404.55L140.41 403.86L140.79 403.19L141.16 402.53L141.54 401.87L141.91 401.22L142.29 400.57L142.66 399.94L143.03 399.31L143.41 398.68L143.78 398.07L144.16 397.46L144.53 396.86L144.91 396.27L145.28 395.68L145.66 395.10L146.03 394.53L146.40 393.97L146.78 393.41L147.15 392.84L147.53 392.26L147.90 391.67L148.28 391.08L148.65 390.49L149.03 389.90L149.40 389.33L149.78 388.78L150.15 388.25L150.52 387.75L150.90 387.28L151.27 386.85L151.65 386.47L152.02 386.14L152.40 385.87L152.77 385.62L153.15 385.38L153.52 385.15L153.89 384.92L154.27 384.70L154.64 384.49L155.02 384.30L155.39 384.13L155.77 383.98L156.14 383.84L156.52 383.74L156.89 383.66L157.27 383.61L157.64 383.59L158.01 383.60L158.39 383.64L158.76 383.68L159.14 383.74L159.51 383.80L159.89 383.86L160.26 383.92L160.64 383.96L161.01 384.00L161.38 384.01L161.76 384.00L162.13 383.97L162.51 383.92L162.88 383.86L163.26 383.80L163.63 383.72L164.01 383.64L164.38 383.56L164.76 383.48L165.13 383.40L165.50 383.33L165.88 383.27L166.25 383.23L166.63 383.19L167.00 383.18L167.38 383.18L167.75 383.18L168.13 383.18L168.50 383.18L168.88 383.18L169.25 383.18L169.62 383.18L170.00 383.18L170.37 383.18L170.75 383.18L171.12 383.18L171.50 383.18L171.87 383.18L172.25 383.18L172.62 383.18L172.99 383.19L173.37 383.23L173.74 383.28L174.12 383.35L174.49 383.44L174.87 383.53L175.24 383.64L175.62 383.75L175.99 383.87L176.37 383.99L176.74 384.10L177.11 384.21L177.49 384.33L177.86 384.45L178.24 384.57L178.61 384.71L178.99 384.85L179.36 385.00L179.74 385.15L180.11 385.30L180.48 385.47L180.86 385.63L181.23 385.80L181.61 385.97L181.98 386.14L182.36 386.31L182.73 386.49L183.11 386.67L183.48 386.86L183.85 387.05L184.23 387.25L184.60 387.45L184.98 387.66L185.35 387.87L185.73 388.09L186.10 388.31L186.48 388.52L186.85 388.74L187.23 388.96L187.60 389.18L187.97 389.39L188.35 389.61L188.72 389.82L189.10 390.04L189.47 390.25L189.85 390.47L190.22 390.69L190.60 390.90L190.97 391.12L191.34 391.35L191.72 391.57L192.09 391.80L192.47 392.03L192.84 392.26L193.22 392.49L193.59 392.73L193.97 392.97L194.34 393.22L194.72 393.47L195.09 393.73L195.46 393.99L195.84 394.26L196.21 394.54L196.59 394.82L196.96 395.11L197.34 395.40L197.71 395.70L198.09 396.00L198.46 396.30L198.83 396.61L199.21 396.92L199.58 397.23L199.96 397.55L200.33 397.86L200.71 398.17L201.08 398.49L201.46 398.80L201.83 399.11L202.21 399.42L202.58 399.73L202.95 400.03L203.33 400.33L203.70 400.64L204.08 400.94L204.45 401.24L204.83 401.54L205.20 401.84L205.58 402.14L205.95 402.44L206.32 402.75L206.70 403.05L207.07 403.36L207.45 403.67L207.82 403.98L208.20 404.30L208.57 404.62L208.95 404.94L209.32 405.27L209.70 405.60L210.07 405.93L210.44 406.27L210.82 406.62L211.19 406.98L211.57 407.33L211.94 407.70L212.32 408.06L212.69 408.43L213.07 408.81L213.44 409.19L213.81 409.56L214.19 409.95L214.56 410.33L214.94 410.71L215.31 411.09L215.69 411.48L216.06 411.86L216.44 412.24L216.81 412.62L217.19 413.00L217.56 413.38L217.93 413.76L218.31 414.13L218.68 414.52L219.06 414.90L219.43 415.28L219.81 415.67L220.18 416.05L220.56 416.44L220.93 416.82L221.31 417.21L221.68 417.59L222.05 417.98L222.43 418.36L222.80 418.74L223.18 419.12L223.55 419.49L223.93 419.86L224.30 420.23L224.68 420.59L225.05 420.95L225.42 421.31L225.80 421.66L226.17 422.01L226.55 422.36L226.92 422.70L227.30 423.04L227.67 423.38L228.05 423.71L228.42 424.05L228.79 424.38L229.17 424.71L229.54 425.04L229.92 425.37L230.29 425.69L230.67 426.02L231.04 426.35L231.42 426.67L231.79 427.00L232.17 427.33L232.54 427.65L232.91 427.98L233.29 428.31L233.66 428.64L234.04 428.97L234.41 429.30L234.79 429.63L235.16 429.96L235.54 430.29L235.91 430.62L236.28 430.94L236.66 431.27L237.03 431.59L237.41 431.91L237.78 432.23L238.16 432.55L238.53 432.86L238.91 433.17L239.28 433.47L239.66 433.77L240.03 434.06L240.40 434.36L240.78 434.65L241.15 434.94L241.53 435.23L241.90 435.51L242.28 435.80L242.65 436.08L243.03 436.36L243.40 436.64L243.77 436.91L244.15 437.19L244.52 437.45L244.90 437.72L245.27 437.98L245.65 438.24L246.02 438.49L246.40 438.73L246.77 438.98L247.15 439.21L247.52 439.44L247.89 439.67L248.27 439.90L248.64 440.12L249.02 440.34L249.39 440.56L249.77 440.78L250.14 441.00L250.52 441.22L250.89 441.43L251.26 441.64L251.64 441.86L252.01 442.07L252.39 442.27L252.76 442.48L253.14 442.68L253.51 442.89L253.89 443.09L254.26 443.28L254.64 443.48L255.01 443.67L255.38 443.87L255.76 444.06L256.13 444.25L256.51 444.43L256.88 444.62L257.26 444.80L257.63 444.98L258.01 445.15L258.38 445.33L258.75 445.50L259.13 445.67L259.50 445.84L259.88 446.01L260.25 446.17L260.63 446.33L261.00 446.49L261.38 446.64L261.75 446.80L262.13 446.95L262.50 447.10L262.87 447.24L263.25 447.39L263.62 447.53L264.00 447.67L264.37 447.81L264.75 447.95L265.12 448.08L265.50 448.22L265.87 448.35L266.24 448.48L266.62 448.61L266.99 448.74L267.37 448.87L267.74 448.99L268.12 449.12L268.49 449.24L268.87 449.36L269.24 449.48L269.62 449.60L269.99 449.72L270.36 449.84L270.74 449.95L271.11 450.07L271.49 450.18L271.86 450.29L272.24 450.40L272.61 450.51L272.99 450.62L273.36 450.73L273.73 450.84L274.11 450.94L274.48 451.05L274.86 451.15L275.23 451.25L275.61 451.36L275.98 451.46L276.36 451.56L276.73 451.66L277.11 451.76L277.48 451.85L277.85 451.95L278.23 452.05L278.60 452.14L278.98 452.24L279.35 452.34L279.73 452.43L280.10 452.53L280.48 452.62L280.85 452.71L281.22 452.81L281.60 452.90L281.97 452.99L282.35 453.08L282.72 453.17L283.10 453.26L283.47 453.35L283.85 453.44L284.22 453.53L284.60 453.61L284.97 453.70L285.34 453.78L285.72 453.87L286.09 453.95L286.47 454.03L286.84 454.11L287.22 454.19L287.59 454.27L287.97 454.34L288.34 454.42L288.71 454.49L289.09 454.57L289.46 454.64L289.84 454.71L290.21 454.78L290.59 454.85L290.96 454.91L291.34 454.98L291.71 455.04L292.09 455.10L292.46 455.16L292.83 455.22L293.21 455.28L293.58 455.34L293.96 455.39L294.33 455.45L294.71 455.51L295.08 455.56L295.46 455.61L295.83 455.67L296.20 455.72L296.58 455.77L296.95 455.82L297.33 455.87L297.70 455.92L298.08 455.97L298.45 456.02L298.83 456.07L299.20 456.11L299.58 456.16L299.95 456.21L300.32 456.25L300.70 456.30L301.07 456.34L301.45 456.38L301.82 456.43L302.20 456.47L302.57 456.51L302.95 456.55L303.32 456.60L303.69 456.64L304.07 456.68L304.44 456.72L304.82 456.76L305.19 456.80L305.57 456.83L305.94 456.87L306.32 456.91L306.69 456.95L307.07 456.99L307.44 457.02L307.81 457.06L308.19 457.10L308.56 457.14L308.94 457.17L309.31 457.21L309.69 457.25L310.06 457.29L310.44 457.32L310.81 457.36L311.18 457.40L311.56 457.44L311.93 457.47L312.31 457.51L312.68 457.55L313.06 457.58L313.43 457.62L313.81 457.65L314.18 457.69L314.56 457.72L314.93 457.75L315.30 457.79L315.68 457.82L316.05 457.85L316.43 457.88L316.80 457.91L317.18 457.94L317.55 457.97L317.93 458.00L318.30 458.03L318.67 458.05L319.05 458.08L319.42 458.10L319.80 458.13L320.17 458.15L320.55 458.17L320.92 458.19L321.30 458.21L321.67 458.23L322.05 458.25L322.42 458.27L322.79 458.28L323.17 458.30L323.54 458.31L323.92 458.33L324.29 458.34L324.67 458.36L325.04 458.37L325.42 458.39L325.79 458.40L326.16 458.42L326.54 458.43L326.91 458.45L327.29 458.46L327.66 458.47L328.04 458.49L328.41 458.50L328.79 458.51L329.16 458.53L329.54 458.54L329.91 458.55L330.28 458.56L330.66 458.57L331.03 458.58L331.41 458.59L331.78 458.60L332.16 458.61L332.53 458.62L332.91 458.63L333.28 458.64L333.65 458.64L334.03 458.65L334.40 458.66L334.78 458.66L335.15 458.67L335.53 458.67L335.90 458.67L336.28 458.68L336.65 458.68L337.03 458.68L337.40 458.68L337.40 459.30Z"/></defs>
<clipPath id="c3"><use href="#p3"/></clipPath>
<use href="#p3" fill="url(#g3)"/>
<path d="M90.08 252.45V459.30" stroke="#ffffff" stroke-opacity="0.22" stroke-width="0.8" clip-path="url(#c3)"/>
<path d="M112.70 252.45V459.30" stroke="#ffffff" stroke-opacity="0.22" stroke-width="0.8" clip-path="url(#c3)"/>
<path d="M37.80 252.45V459.30" stroke="#b8b8b8" stroke-width="1.4" fill="none"/>
<path d="M337.40 252.45V459.30" stroke="#949494" stroke-width="1.1" fill="none"/>
<path d="M37.30 459.30H337.90" stroke="#9a9a9a" stroke-width="1.1" fill="none"/>
<path d="M37.30 252.45H337.90" stroke="#6a6a6a" stroke-width="1.1" fill="none"/>
<path d="M37.80 459.30v2.5M67.76 459.30v2.5M97.72 459.30v2.5M127.68 459.30v2.5M157.64 459.30v2.5M187.60 459.30v2.5M217.56 459.30v2.5M247.52 459.30v2.5M277.48 459.30v2.5M307.44 459.30v2.5M337.40 459.30v2.5M37.80 252.45h-3M37.80 293.50h-3M37.80 334.90h-3M37.80 376.20h-3M37.80 417.40h-3M37.80 459.30h-3" stroke="#8a8a8a" stroke-width="1" fill="none"/>
<text x="38.02" y="472.70" text-anchor="middle" font-size="12.3" letter-spacing="0.45">380</text>
<text x="67.85" y="472.70" text-anchor="middle" font-size="12.3" letter-spacing="0.45">420</text>
<text x="97.68" y="472.70" text-anchor="middle" font-size="12.3" letter-spacing="0.45">460</text>
<text x="127.50" y="472.70" text-anchor="middle" font-size="12.3" letter-spacing="0.45">500</text>
<text x="157.33" y="472.70" text-anchor="middle" font-size="12.3" letter-spacing="0.45">540</text>
<text x="187.15" y="472.70" text-anchor="middle" font-size="12.3" letter-spacing="0.45">580</text>
<text x="216.98" y="472.70" text-anchor="middle" font-size="12.3" letter-spacing="0.45">620</text>
<text x="246.80" y="472.70" text-anchor="middle" font-size="12.3" letter-spacing="0.45">660</text>
<text x="276.63" y="472.70" text-anchor="middle" font-size="12.3" letter-spacing="0.45">700</text>
<text x="306.45" y="472.70" text-anchor="middle" font-size="12.3" letter-spacing="0.45">740</text>
<text x="336.28" y="472.70" text-anchor="middle" font-size="12.3" letter-spacing="0.45">780</text>
<text x="34.50" y="256.35" text-anchor="end" font-size="12.3" letter-spacing="0.45">1.0</text>
<text x="34.50" y="297.40" text-anchor="end" font-size="12.3" letter-spacing="0.45">0.8</text>
<text x="34.50" y="338.80" text-anchor="end" font-size="12.3" letter-spacing="0.45">0.6</text>
<text x="34.50" y="380.10" text-anchor="end" font-size="12.3" letter-spacing="0.45">0.4</text>
<text x="34.50" y="421.30" text-anchor="end" font-size="12.3" letter-spacing="0.45">0.2</text>
<text x="34.50" y="463.20" text-anchor="end" font-size="12.3" letter-spacing="0.45">0.0</text>
<text x="175.50" y="485.30" text-anchor="middle" font-size="11" letter-spacing="0.08">Wavelength (nm)</text>
<text transform="translate(10.40 365.70) rotate(-90)" text-anchor="middle" font-size="11" letter-spacing="0.08">Relative Value</text>
<text x="299.20" y="264.60" text-anchor="middle" font-size="11" letter-spacing="0.08">White</text>
</svg>
<div class="wheel"></div>
</body></html>
